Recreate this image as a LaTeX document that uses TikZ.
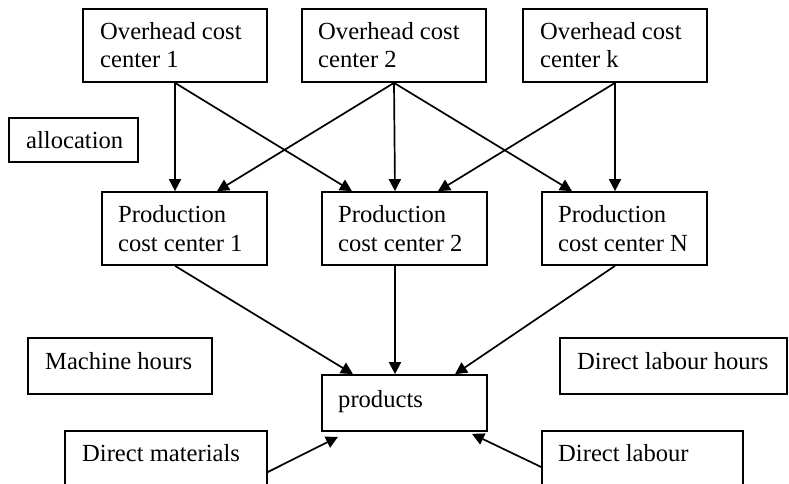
\documentclass[tikz,border=0pt]{standalone}
\usepackage{fontspec}
\setmainfont{Liberation Serif}
\usetikzlibrary{arrows.meta}
\newcommand{\twoln}[2]{\vtop{\baselineskip=28.5pt\hbox{#1}\hbox{#2}}}
\tikzset{
  box/.style={draw, line width=1.7pt, inner sep=0pt, minimum width=#1},
  txt/.style={anchor=base west, inner sep=0pt, font=\fontsize{24.6}{28.5}\selectfont},
  arr/.style={line width=1.7pt, -{Triangle[length=12pt,width=12pt]}}
}
\begin{document}
\begin{tikzpicture}[x=1pt,y=-1pt]
\useasboundingbox (0,0) rectangle (789,483);
% boxes
\node[box=184pt, minimum height=73pt] (o1) at (175,45.5) {};
\node[box=184pt, minimum height=73pt] (o2) at (394,45.5) {};
\node[box=184pt, minimum height=73pt] (ok) at (615,45.5) {};
\node[box=129pt, minimum height=44pt] (al) at (73.5,140) {};
\node[box=165pt, minimum height=73pt] (p1) at (184.5,228.5) {};
\node[box=165pt, minimum height=73pt] (p2) at (404.5,228.5) {};
\node[box=165pt, minimum height=73pt] (pn) at (624.5,228.5) {};
\node[box=184pt, minimum height=56pt] (mh) at (120,366) {};
\node[box=227pt, minimum height=56pt] (dlh) at (673.5,366) {};
\node[box=165pt, minimum height=56pt] (pr) at (404.5,403) {};
\node[box=202pt, minimum height=60pt] (dm) at (166,461) {};
\node[box=201pt, minimum height=60pt] (dl) at (642.5,461) {};
% texts
\node[txt] (to1) at (100,39) {\twoln{Overhead cost}{center 1}};
\node[txt] (to2) at (318,39) {\twoln{Overhead cost}{center 2}};
\node[txt] (tok) at (540,39) {\twoln{Overhead cost}{center k}};
\node[txt] (tal) at (26,148) {allocation};
\node[txt] (tp1) at (118,222.5) {\twoln{Production}{cost center 1}};
\node[txt] (tp2) at (338,222.5) {\twoln{Production}{cost center 2}};
\node[txt] (tpn) at (558,222.5) {\twoln{Production}{cost center N}};
\node[txt] (tmh) at (45,369) {Machine hours};
\node[txt] (tdlh) at (577,369) {Direct labour hours};
\node[txt] (tpr) at (338,407) {products};
\node[txt] (tdm) at (82,461) {Direct materials};
\node[txt] (tdl) at (558,461) {Direct labour};
% arrows overhead -> production
\draw[arr] (o1.south) -- ([xshift=-9.5pt]p1.north);
\draw[arr] (o1.south) -- ([xshift=-52.5pt]p2.north);
\draw[arr] (o2.south) -- ([xshift=32.5pt]p1.north);
\draw[arr] (o2.south) -- ([xshift=-9.5pt]p2.north);
\draw[arr] (o2.south) -- ([xshift=-52.5pt]pn.north);
\draw[arr] (ok.south) -- ([xshift=33.5pt]p2.north);
\draw[arr] (ok.south) -- ([xshift=-9.5pt]pn.north);
% production -> products
\draw[arr] ([xshift=-9.5pt]p1.south) -- ([xshift=-51.5pt]pr.north);
\draw[arr] ([xshift=-9.5pt]p2.south) -- ([xshift=-9.5pt]pr.north);
\draw[arr] ([xshift=-9.5pt]pn.south) -- ([xshift=50.5pt]pr.north);
% direct inputs -> products
\draw[arr] ([yshift=-11pt]dm.east) -- ([xshift=-66.5pt,yshift=-5pt]pr.south);
\draw[arr] ([yshift=-6pt]dl.west) -- ([xshift=67.5pt,yshift=-2pt]pr.south);
\end{tikzpicture}
\end{document}
